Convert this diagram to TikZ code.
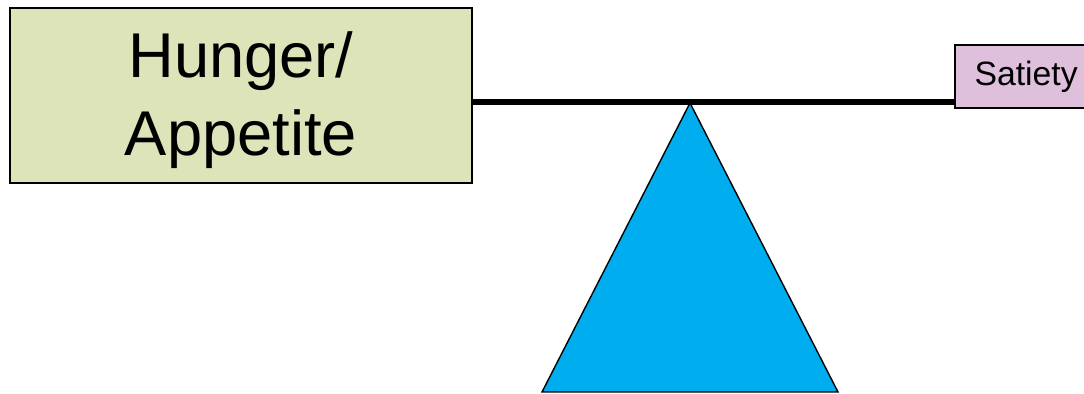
\documentclass[tikz,border=0pt]{standalone}
\usepackage{fontspec}
\setmainfont{Liberation Sans}
\usepackage{xcolor}
\definecolor{hungerfill}{RGB}{221,228,185}
\definecolor{satietyfill}{RGB}{222,192,220}
\definecolor{fulcrumfill}{RGB}{0,174,239}

\begin{document}
\begin{tikzpicture}
	\useasboundingbox (0, 0) rectangle (27.1, 9.85);
	\clip (0, 0) rectangle (27.1, 9.85);
	% Boxes, beam and fulcrum:
	\node[shape=rectangle, draw=black, fill=hungerfill, line width=1pt, minimum width=11.55cm, minimum height=4.375cm] (hunger) at (6.025, 7.4625){};
	\node[anchor=center, align=center, font=\fontsize{45}{55}\selectfont] (hungertext) at ([yshift=-0.12cm]hunger.center){Hunger/\\Appetite};
	\node[shape=rectangle, draw=black, fill=satietyfill, line width=1pt, minimum width=3.6cm, minimum height=1.575cm] (satiety) at (25.675, 7.9375){};
	\node[anchor=west, inner sep=0pt, font=\fontsize{24}{28}\selectfont] (satietytext) at ([xshift=0.5cm]satiety.west){Satiety};
	\coordinate (apex) at (17.25, 7.275);
	\coordinate (baseL) at (13.55, 0.05);
	\coordinate (baseR) at (20.95, 0.05);
	\draw[line width=4pt] (hunger.east |- 0, 7.3) -- (satiety.west |- 0, 7.3);
	\draw[fill=fulcrumfill, line width=1pt] (apex) -- (baseR) -- (baseL) -- cycle;
\end{tikzpicture}
\end{document}
